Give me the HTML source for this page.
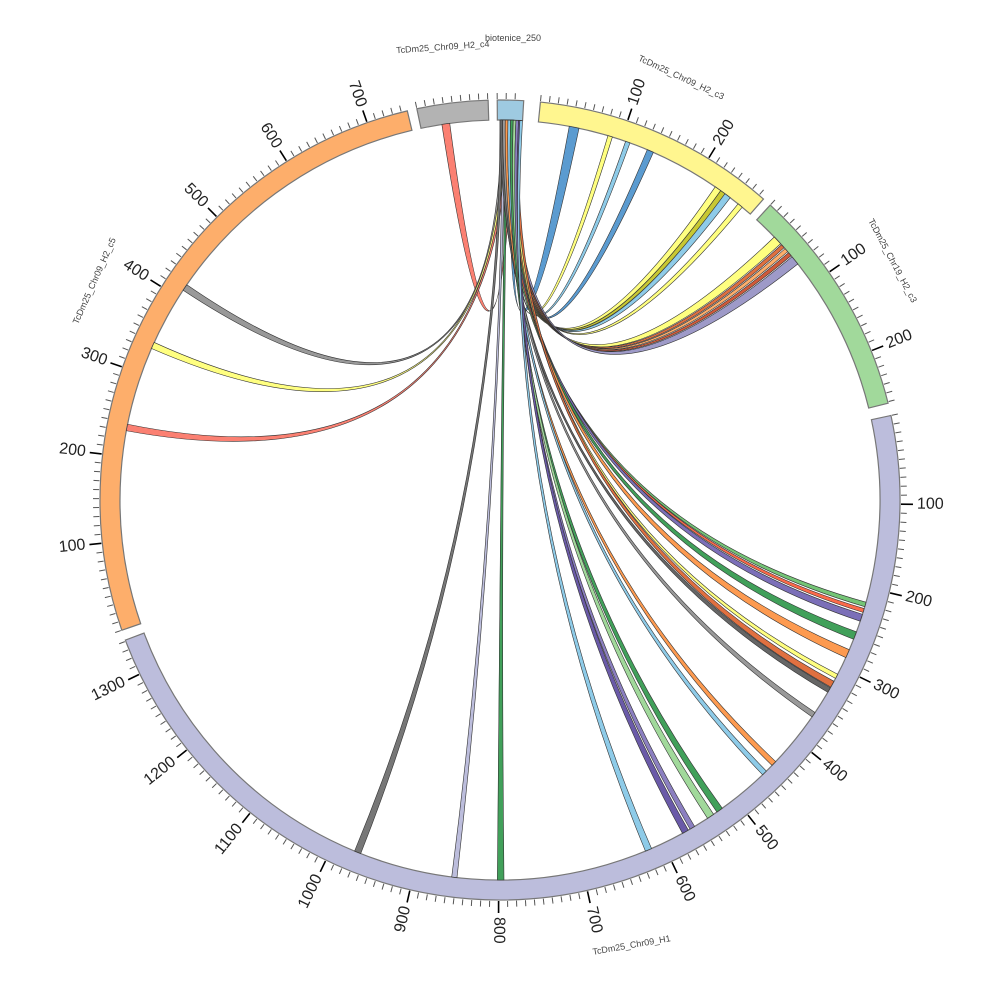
<!DOCTYPE html>
<html><head><meta charset="utf-8"><style>
html,body{margin:0;padding:0;background:#fff;}
svg{display:block;font-family:"Liberation Sans",sans-serif;}
</style></head><body>
<svg id="s" width="1000" height="1000" viewBox="0 0 1000 1000" xmlns="http://www.w3.org/2000/svg"></svg>
<script>
var cx=500,cy=500,R1=380,R2=400,K=0.128;
var S=document.getElementById('s');var out='';
function P(th,r){var a=th*Math.PI/180;return [cx+r*Math.sin(a),cy-r*Math.cos(a)];}
function f(p){return p[0].toFixed(2)+','+p[1].toFixed(2);}
var segs=[
 {s:348,e:358.3,c:'#b3b3b3'},
 {s:359.6,e:3.4+360,c:'#9ecae1'},
 {s:5.8,e:41.2,c:'#fff68f'},
 {s:42.5,e:76,c:'#a1d99b'},
 {s:77.8,e:249.5,c:'#bcbddc'},
 {s:251,e:346.6,c:'#fdae6b'}
];
segs.forEach(function(g){
 var a=P(g.s,R1),b=P(g.e,R1),c=P(g.e,R2),d=P(g.s,R2);
 var lg=(g.e-g.s)>180?1:0;
 out+='<path d="M'+f(d)+' A'+R2+','+R2+' 0 '+lg+' 1 '+f(c)+' L'+f(b)+' A'+R1+','+R1+' 0 '+lg+' 0 '+f(a)+' Z" fill="'+g.c+'" stroke="#777" stroke-width="1.2"/>';
 var n=Math.floor((g.e-g.s)/K/10);
 for(var i=0;i<=n;i++){
  var th=g.s+i*10*K;var maj=(i%10==0&&i>0);
  var p1=P(th,R2+1),p2=P(th,R2+(maj?13:7));
  out+='<line x1="'+p1[0].toFixed(2)+'" y1="'+p1[1].toFixed(2)+'" x2="'+p2[0].toFixed(2)+'" y2="'+p2[1].toFixed(2)+'" stroke="'+(maj?'#000':'#555')+'" stroke-width="'+(maj?1.6:1)+'"/>';
  if(maj){
   var t=((th%360)+360)%360;var q=P(th,R2+17);var rot,anc;
   if(t<=182){rot=t-90;anc='start';}else{rot=t-270;anc='end';}
   out+='<text x="'+q[0].toFixed(2)+'" y="'+q[1].toFixed(2)+'" font-size="16" fill="#222" text-anchor="'+anc+'" dominant-baseline="middle" transform="rotate('+rot.toFixed(2)+' '+q[0].toFixed(2)+' '+q[1].toFixed(2)+')">'+(i*10)+'</text>';
  }
 }
});
var rb=[
 [351.2,352.4,1.6,2.0,'#fb8072'],
 [303.5,304.5,0.2,0.6,'#999999'],
 [293.5,294.5,0.6,1.0,'#ffff80'],
 [280.5,281.5,1.0,1.4,'#fb8072'],
 [201.5,202.5,0.0,0.4,'#777777'],
 [186.5,187.3,0.4,0.8,'#bcbddc'],
 [179.4,180.4,0.8,1.2,'#41a05a'],
 [10.5,12.0,1.8,2.6,'#5b9bd0'],
 [16.5,17.2,2.2,2.6,'#ffff80'],
 [19.3,20.0,2.4,2.8,'#8ecbe8'],
 [22.8,23.8,2.6,3.0,'#5b9bd0'],
 [34.5,35.5,0.2,0.8,'#ffff80'],
 [35.5,36.3,0.8,1.3,'#c8c832'],
 [36.3,37.3,1.3,1.8,'#8ecbe8'],
 [38.8,39.6,1.8,2.2,'#ffff80'],
 [46.2,47.6,0.4,0.8,'#ffff80'],
 [47.8,48.4,0.8,1.2,'#e07040'],
 [48.6,49.2,1.2,1.6,'#fdae6b'],
 [49.4,50.0,1.6,2.0,'#d05a3a'],
 [50.2,51.6,2.0,2.6,'#9e9ac8'],
 [105.6,106.3,0.2,0.6,'#74c476'],
 [106.6,107.2,0.6,1.0,'#fb6a4a'],
 [107.5,108.6,1.0,1.4,'#7b6fb8'],
 [110.3,111.5,1.4,1.8,'#41a05a'],
 [113.2,114.5,1.8,2.2,'#fd9a50'],
 [117.3,118.0,2.2,2.6,'#ffff80'],
 [118.5,119.5,2.6,3.0,'#e07040'],
 [119.6,120.4,0.0,0.4,'#666666'],
 [124.0,124.8,0.4,0.8,'#999999'],
 [133.5,134.3,0.8,1.2,'#fd9a50'],
 [135.5,136.3,1.2,1.6,'#8ecbe8'],
 [144.2,145.2,1.6,2.0,'#41a05a'],
 [145.8,146.9,2.0,2.4,'#a1d99b'],
 [149.2,150.0,2.4,2.8,'#8b7fc0'],
 [150.3,151.3,2.8,3.2,'#6a5aa8'],
 [156.5,157.5,3.0,3.4,'#8ecbe8']
];
rb.forEach(function(r){
 var a1=P(r[0],R1),a2=P(r[1],R1),b1=P(r[2],R1),b2=P(r[3],R1);
 out+='<path d="M'+f(a1)+' A'+R1+','+R1+' 0 0 1 '+f(a2)+' Q'+cx+','+cy+' '+f(b1)+' A'+R1+','+R1+' 0 0 1 '+f(b2)+' Q'+cx+','+cy+' '+f(a1)+' Z" fill="'+r[4]+'" stroke="#333" stroke-width="0.6"/>';
});
function lab(x,y,rot,t){out+='<text x="'+x+'" y="'+y+'" font-size="9" fill="#444" text-anchor="middle" transform="rotate('+rot+' '+x+' '+y+')">'+t+'</text>';}
lab(513,41,0,'biotenice_250');
lab(443,50,-4,'TcDm25_Chr09_H2_c4');
lab(680,80,25,'TcDm25_Chr09_H2_c3');
lab(890,262,62,'TcDm25_Chr19_H2_c3');
lab(632,948,-10,'TcDm25_Chr09_H1');
lab(97,282,-66,'TcDm25_Chr09_H2_c5');
S.innerHTML=out;
</script>
</body></html>
